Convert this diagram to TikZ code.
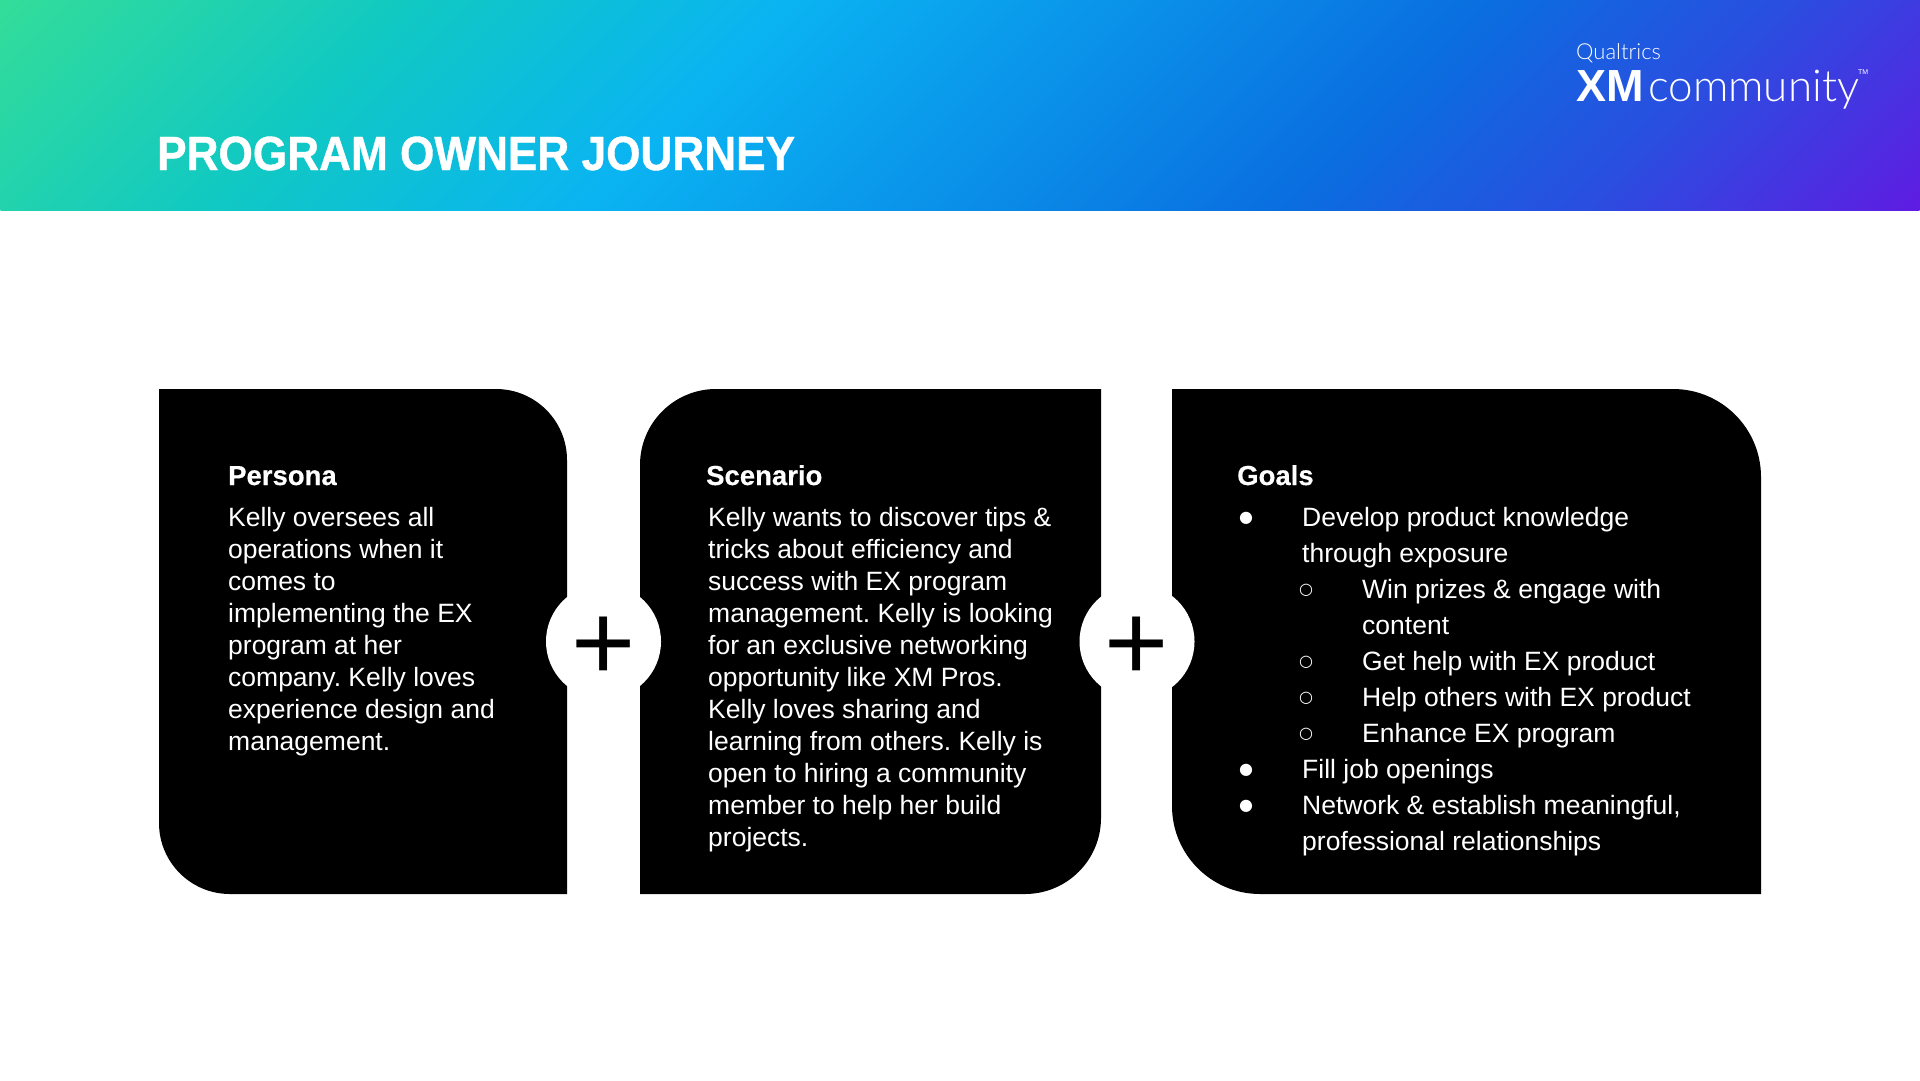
\documentclass[tikz,border=0pt]{standalone}
\usepackage{fontspec}
\setmainfont{Liberation Sans}
\newfontfamily\symfont{DejaVu Sans}
\newfontfamily\titlefont[FakeStretch=0.92,FakeBold=0.8]{Liberation Sans Bold}
\newfontfamily\headfont[FakeBold=0.4]{Liberation Sans Bold}
\newfontfamily\logofont{Lato Light}
\definecolor{fadea}{HTML}{33DD99}
\definecolor{fadeb}{HTML}{10C8C4}
\definecolor{fadec}{HTML}{0AB4F2}
\definecolor{fadeh}{HTML}{0A6EE0}
\definecolor{faded}{HTML}{2A4EE0}
\definecolor{fadee}{HTML}{5F1CE2}
\pgfdeclarehorizontalshading{bannerfade}{100bp}{
  color(0bp)=(fadea); color(25bp)=(fadea); color(35bp)=(fadeb); color(43.5bp)=(fadec);
  color(60bp)=(fadeh); color(67bp)=(faded); color(75bp)=(fadee); color(100bp)=(fadee)}
\tikzset{
  panel/.style={fill=black},
  plusdisc/.style={circle, fill=white, inner sep=0pt, minimum size=115pt, font=\fontsize{110}{110}\selectfont},
  headtext/.style={anchor=base west, inner sep=0pt, text=white, font=\fontsize{27.5}{32}\selectfont\headfont},
  bodytext/.style={anchor=north west, inner sep=0pt, text=white, align=left, font=\fontsize{26.5}{32}\selectfont\frenchspacing},
  listtext/.style={anchor=base west, inner sep=0pt, text=white, font=\fontsize{26.5}{32}\selectfont\frenchspacing},
  listmark/.style={anchor=base, inner sep=0pt, text=white, font=\fontsize{16}{16}\selectfont\symfont},
}
\begin{document}
\begin{tikzpicture}[x=1pt, y=-1pt]
\useasboundingbox (0,0) rectangle (1920,1080);
% banner
\begin{scope}
  \clip (0,0) rectangle (1920,210);
  \begin{scope}[transform canvas={shift={(960,105)}, rotate=-45}]
    \shade[shading=bannerfade] (-753,-753) rectangle (753,753);
  \end{scope}
\end{scope}
\node[anchor=base west, inner sep=0pt, text=white, font=\fontsize{48}{48}\selectfont\titlefont] (title) at (157,170) {PROGRAM OWNER JOURNEY};
\node[anchor=base west, inner sep=0pt, text=white, font=\fontsize{22}{22}\selectfont\logofont] (brand) at (1576,59.5) {Qualtrics};
\node[anchor=base west, inner sep=0pt, text=white, font=\fontsize{45}{45}\selectfont\bfseries] (xm) at (1576,101) {XM};
\node[anchor=base west, inner sep=0pt, text=white, font=\fontsize{44}{44}\selectfont\logofont] (community) at (1648,101) {community};
\node[anchor=base west, inner sep=0pt, text=white, font=\fontsize{7}{7}\selectfont] (tm) at (1858,74) {TM};

% panels
\fill[panel] (159,389) [rounded corners=71pt] -- (567,389) [sharp corners] -- (567,894) [rounded corners=71pt] -- (159,894) [sharp corners] -- cycle;
\fill[panel] (1101,389) [rounded corners=76pt] -- (640,389) [sharp corners] -- (640,894) [rounded corners=76pt] -- (1101,894) [sharp corners] -- cycle;
\fill[panel] (1172,389) [rounded corners=88pt] -- (1761,389) [sharp corners] -- (1761,894) [rounded corners=88pt] -- (1172,894) [sharp corners] -- cycle;

\node[plusdisc] (plusa) at (603.5,641.5) {\raisebox{-38.5pt}[0pt][0pt]{+}};
\node[plusdisc] (plusb) at (1137,641.5) {\raisebox{-38.5pt}[0pt][0pt]{+}};

% persona
\node[headtext] (persona) at (228,485) {Persona};
\node[bodytext] (personatext) at (228,507) {Kelly oversees all\\operations when it\\comes to\\implementing the EX\\program at her\\company. Kelly loves\\experience design and\\management.};

% scenario
\node[headtext] (scenario) at (706,485) {Scenario};
\node[bodytext] (scenariotext) at (708,507) {Kelly wants to discover tips \&\\tricks about efficiency and\\success with EX program\\management. Kelly is looking\\for an exclusive networking\\opportunity like XM Pros.\\Kelly loves sharing and\\learning from others. Kelly is\\open to hiring a community\\member to help her build\\projects.};

% goals
\node[headtext] (goals) at (1237,485) {Goals};
\foreach \row/\px/\py/\txt in {a/1302/526/Develop product knowledge, b/1302/562/through exposure, c/1362/598/Win prizes \& engage with, d/1362/634/content, e/1362/670/Get help with EX product, f/1362/706/Help others with EX product, g/1362/742/Enhance EX program, h/1302/778/Fill job openings, i/1302/814/{Network \& establish meaningful,}, j/1302/850/{professional relationships}}
  \node[listtext] (goal\row) at (\px,\py) {\txt};
\foreach \row/\px/\py in {a/1246/522, h/1246/774, i/1246/810}
  \node[listmark] (dot\row) at (\px,\py) {●};
\foreach \row/\px/\py in {c/1306/594, e/1306/666, f/1306/702, g/1306/738}
  \node[listmark] (ring\row) at (\px,\py) {○};
\end{tikzpicture}
\end{document}
